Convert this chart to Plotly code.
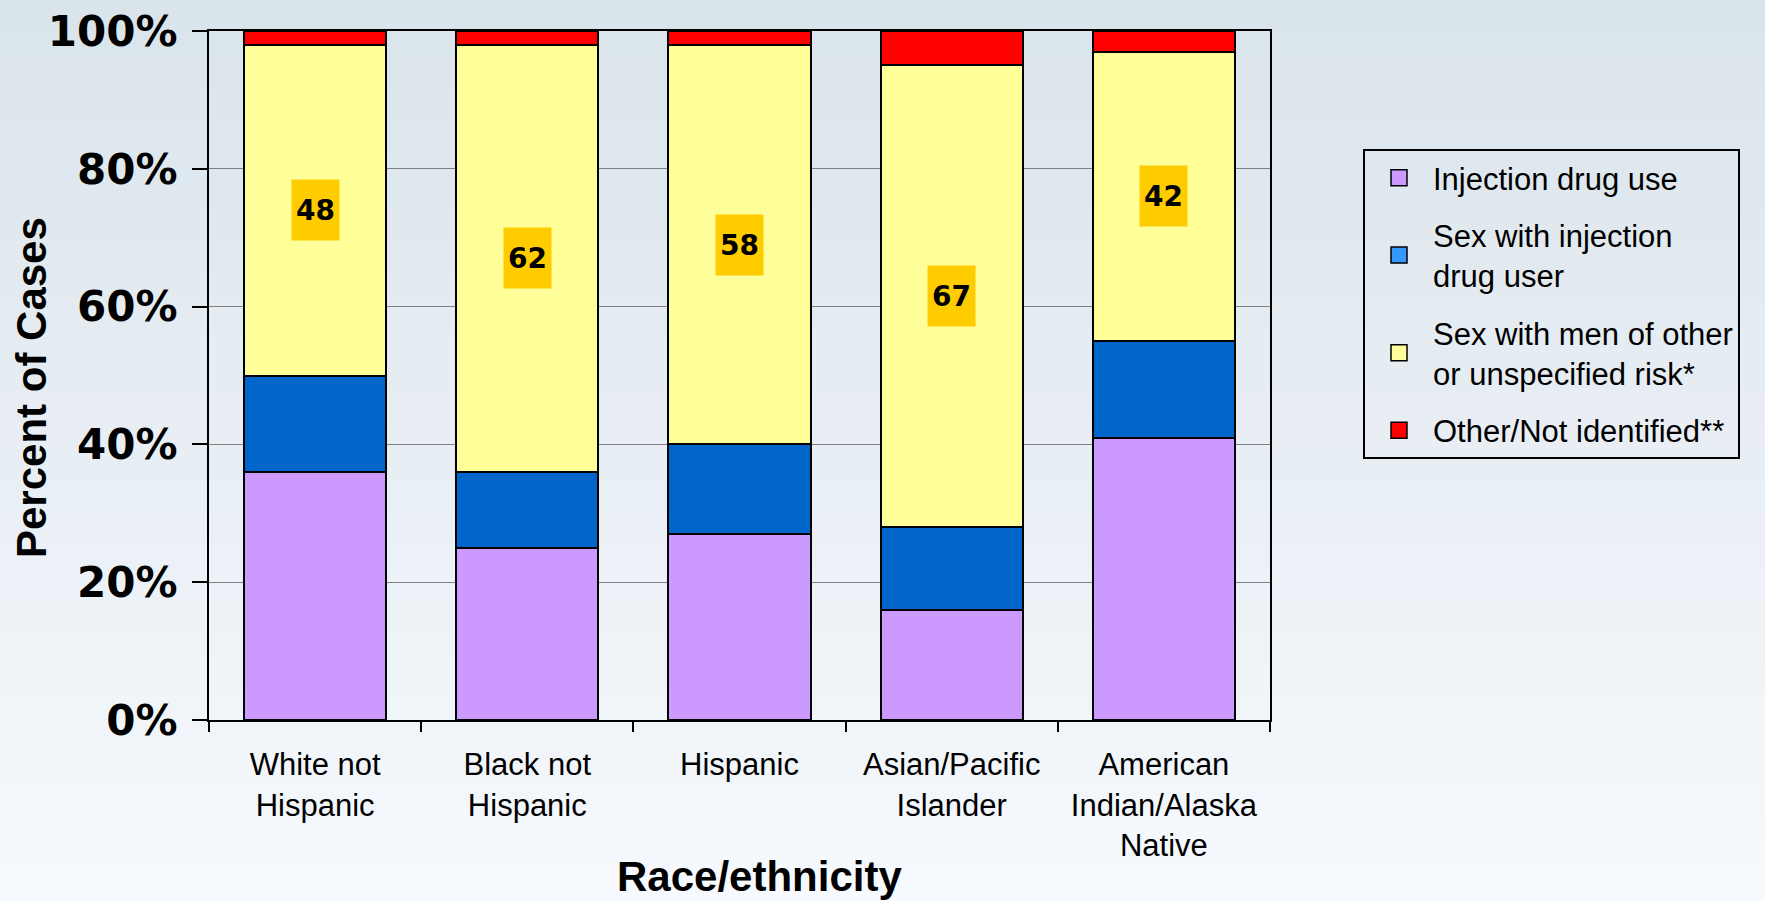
import plotly.graph_objects as go

categories = ["White not<br>Hispanic", "Black not<br>Hispanic", "Hispanic",
              "Asian/Pacific<br>Islander", "American<br>Indian/Alaska<br>Native"]
idu = [36, 25, 27, 16, 41]
sex_idu = [14, 11, 13, 12, 14]
sex_men = [48, 62, 58, 67, 42]
other = [2, 2, 2, 5, 3]

series_names = ["Injection drug use", "Sex with injection<br>drug user",
                "Sex with men of other<br>or unspecified risk*", "Other/Not identified**"]
bar_colors = ["#CC99FF", "#0066CC", "#FFFF99", "#FF0000"]
legend_colors = ["#CC99FF", "#3399FF", "#FFFF99", "#FF0000"]
series_values = [idu, sex_idu, sex_men, other]
y_ticks = [0, 20, 40, 60, 80, 100]

W, H = 1765, 901
ML, MR, MT, MB = 209, 495, 31, 181
PW, PH = W - ML - MR, H - MT - MB

fig = go.Figure()
for name, vals, col in zip(series_names, series_values, bar_colors):
    fig.add_trace(go.Bar(x=categories, y=vals, name=name, marker_color=col,
                         marker_line=dict(color="black", width=2),
                         width=0.67, showlegend=False))
for i, (name, col) in enumerate(zip(series_names, legend_colors)):
    fig.add_trace(go.Scatter(x=[categories[0]], y=[None], mode="markers", name=name,
                             legendgroup=f"g{i}",
                             marker=dict(symbol="square", size=16, color=col,
                                         line=dict(color="black", width=1.5))))

for c, a, b, m in zip(categories, idu, sex_idu, sex_men):
    fig.add_annotation(x=c, y=a + b + m / 2, text=f"<b>{m}</b>", showarrow=False,
                       bgcolor="#FFCC00", width=45, height=58, borderpad=1,
                       font=dict(family="DejaVu Sans", size=28, color="black"))

fig.add_annotation(xref="paper", yref="paper", x=(759 - ML) / PW, y=(H - MB - 877) / PH,
                   text="<b>Race/ethnicity</b>", showarrow=False,
                   font=dict(family="Liberation Sans", size=42, color="black"),
                   xanchor="center", yanchor="middle")
fig.add_annotation(xref="paper", yref="paper", x=(31 - ML) / PW, y=(H - MB - 388) / PH,
                   text="<b>Percent of Cases</b>", showarrow=False, textangle=-90,
                   font=dict(family="Liberation Sans", size=42, color="black"),
                   xanchor="center", yanchor="middle")

# background vertical gradient (styling only)
n_bands = 30
top_rgb = (218, 228, 235)
bot_rgb = (246, 249, 253)
for k in range(n_bands):
    t = k / (n_bands - 1)
    rgb = tuple(int(round(top_rgb[j] + (bot_rgb[j] - top_rgb[j]) * t)) for j in range(3))
    y1 = 1 + MT / PH - k * (H / PH) / n_bands
    y0 = y1 - (H / PH) / n_bands - 0.002
    fig.add_shape(type="rect", xref="paper", yref="paper",
                  x0=-ML / PW, x1=(W - ML) / PW, y0=y0, y1=y1,
                  fillcolor="rgb(%d,%d,%d)" % rgb, line=dict(width=0), layer="below")

fig.update_layout(
    barmode="stack",
    width=W, height=H,
    margin=dict(l=ML, r=MR, t=MT, b=MB, autoexpand=False),
    paper_bgcolor="#eef3f8",
    plot_bgcolor="rgba(0,0,0,0)",
    legend=dict(x=(1363 - ML) / PW, y=(H - MB - 149) / PH, xanchor="left", yanchor="top",
                bordercolor="black", borderwidth=2, bgcolor="rgba(0,0,0,0)",
                traceorder="grouped", tracegroupgap=14,
                font=dict(family="Liberation Sans", size=31, color="black"),
                itemwidth=58),
    xaxis=dict(showline=True, linecolor="black", linewidth=2, mirror=True,
               ticks="outside", tickson="boundaries", ticklen=10, tickwidth=1.5,
               tickcolor="black", ticklabelstandoff=16, automargin=False,
               tickfont=dict(family="Liberation Sans", size=31, color="black"),
               showgrid=False),
    yaxis=dict(range=[0, 100], tickvals=y_ticks, ticktext=[f"{v}%" for v in y_ticks],
               showline=True, linecolor="black", linewidth=2, mirror=True,
               ticks="outside", ticklen=15, tickwidth=1.5, tickcolor="black",
               ticklabelstandoff=6, automargin=False,
               tickfont=dict(family="DejaVu Sans", size=42, color="black", weight="bold"),
               showgrid=True, gridcolor="#808080", gridwidth=1, zeroline=False),
)

fig.write_html("out.html", config={"displayModeBar": False},
               post_script="document.body.style.margin='0';document.body.style.overflow='hidden';")
